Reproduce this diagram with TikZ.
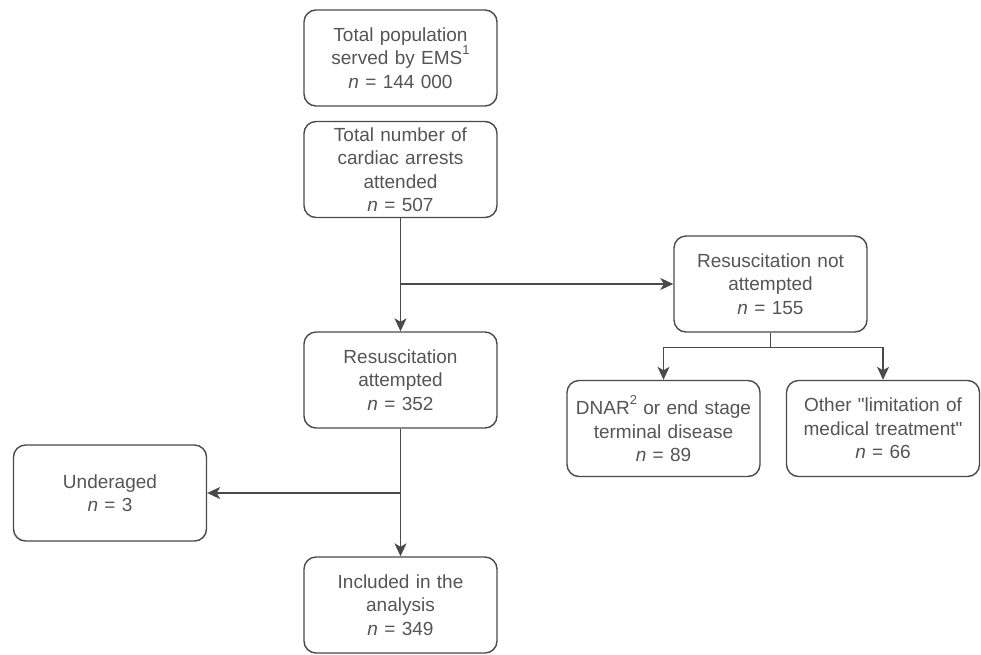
\documentclass[tikz,border=0pt]{standalone}
\usepackage{fontspec}
\setmainfont{Liberation Sans}
\usetikzlibrary{arrows.meta}
\definecolor{lnc}{HTML}{4A4A4A}
\definecolor{txc}{HTML}{555555}
\newcommand{\supn}[1]{\raisebox{0.55em}{\fontsize{13}{13}\selectfont #1}}
\begin{document}
\begin{tikzpicture}[x=1pt,y=-1pt,
  box/.style={draw=lnc, line width=1.4pt, rounded corners=12pt, minimum width=193pt, minimum height=96pt,
    text width=190pt, align=center, text=txc, font=\fontsize{19}{23.5}\selectfont, inner sep=1pt},
  arr/.style={draw=lnc, line width=1.4pt, -{Stealth[length=13pt,width=12pt,inset=3.5pt]}},
  lne/.style={draw=lnc, line width=1.4pt}]
\useasboundingbox[fill=white] (0,0) rectangle (981,654);
\node[box] (pop) at (400.5,58) {Total population\\served by EMS\supn{1}\\\textit{n} = 144 000};
\node[box] (tot) at (400.5,169.5) {Total number of\\cardiac arrests\\attended\\\textit{n} = 507};
\node[box] (att) at (400.5,380) {Resuscitation\\attempted\\\textit{n} = 352};
\node[box] (und) at (110,493) {Underaged\\\textit{n} = 3\\[2pt]};
\node[box] (inc) at (400.5,605) {Included in the\\analysis\\\textit{n} = 349};
\node[box] (rnot) at (770.5,284) {Resuscitation not\\attempted\\\textit{n} = 155};
\node[box] (dnar) at (663.5,428.5) {DNAR\supn{2} or end stage\\terminal disease\\\textit{n} = 89};
\node[box] (oth) at (883,428.5) {Other \textquotedbl limitation of\\medical treatment\textquotedbl\\\textit{n} = 66};
\draw[arr] (tot.south) -- (att.north);
\coordinate (b1) at (400.5,284);
\draw[arr] (b1) -- (rnot.west);
\draw[lne] (rnot.south) -- ++(0,15) coordinate (b2);
\draw[arr] (b2) -| (dnar.north);
\draw[arr] (b2) -| (oth.north);
\draw[arr] (att.south) -- (inc.north);
\coordinate (b3) at (400.5,493);
\draw[arr] (b3) -- (und.east);
\end{tikzpicture}
\end{document}
